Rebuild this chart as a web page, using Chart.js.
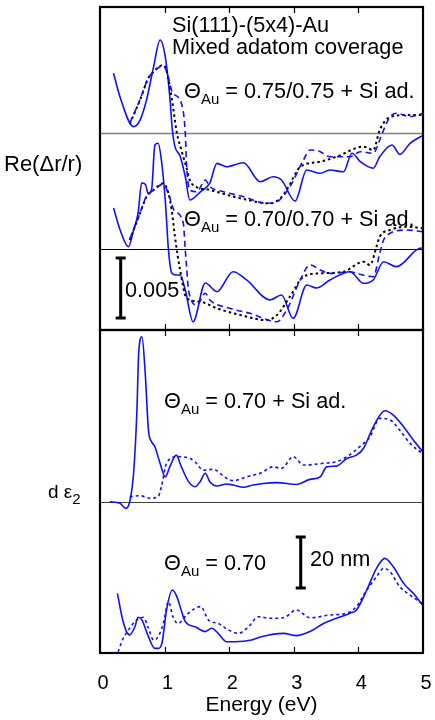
<!DOCTYPE html>
<html>
<head>
<meta charset="utf-8">
<script src="https://cdn.jsdelivr.net/npm/chart.js@4.4.0/dist/chart.umd.min.js"></script>
<style>
  body { margin: 0; background: #fff; overflow: hidden; }
  #wrap { position: relative; width: 435px; height: 720px; font-family: "Liberation Sans", Arial, sans-serif; color: #000; }
  canvas { position: absolute; left: 0; }
  #topChart { top: 0; }
  #botChart { top: 325px; }
  .lbl { position: absolute; font-size: 21.7px; line-height: 22px; white-space: nowrap; }
  .lbl sub { font-size: 15px; vertical-align: -6px; line-height: 0; }
</style>
</head>
<body>
<div id="wrap">
  <canvas id="topChart" width="435" height="335"></canvas>
  <canvas id="botChart" width="435" height="395"></canvas>

  <div class="lbl" style="left:172px;top:14px">Si(111)-(5x4)-Au</div>
  <div class="lbl" style="left:172px;top:36px">Mixed adatom coverage</div>
  <div class="lbl" style="left:184px;top:80px">&Theta;<sub>Au</sub> = 0.75/0.75 + Si ad.</div>
  <div class="lbl" style="left:184px;top:208px">&Theta;<sub>Au</sub> = 0.70/0.70 + Si ad.</div>
  <div class="lbl" style="left:125px;top:279px">0.005</div>
  <div class="lbl" style="left:4px;top:153px;font-size:22px">Re(&Delta;r/r)</div>

  <div class="lbl" style="left:164px;top:390px">&Theta;<sub>Au</sub> = 0.70 + Si ad.</div>
  <div class="lbl" style="left:164px;top:552px">&Theta;<sub>Au</sub> = 0.70</div>
  <div class="lbl" style="left:310px;top:548px">20 nm</div>
  <div class="lbl" style="left:48px;top:481px;font-size:19px">d &epsilon;<sub>2</sub></div>
</div>

<script>
// Re(dr/r) in units of 1e-3, read relative to each curve's own baseline
const reUpSolid = [[0.21,4.98],[0.31,3.0],[0.52,0.53],[0.62,1.08],[0.72,2.75],[0.83,5.53],[0.93,7.75],[1.01,6.36],[1.08,3.03],[1.12,0.25],[1.16,-1.14],[1.24,-1.92],[1.32,-3.64],[1.39,-5.58],[1.55,-4.92],[1.70,-4.17],[1.81,-2.53],[1.96,-2.81],[2.22,-2.48],[2.48,-4.06],[2.68,-3.64],[2.81,-3.92],[3.02,-5.67],[3.20,-3.08],[3.41,-3.36],[3.56,-3.08],[3.77,-3.23],[3.90,-1.69],[4.03,-2.39],[4.23,-2.94],[4.33,-1.98],[4.52,-1.0],[4.64,-1.78],[4.80,-0.86],[5.0,-0.2]];
const reUpDot = [[0.46,0.75],[0.62,2.75],[0.75,4.58],[0.83,5.1],[0.93,5.58],[0.98,5.67],[1.03,5.17],[1.11,2.92],[1.19,0],[1.26,-1.42],[1.34,-2.92],[1.39,-3.92],[1.44,-4.33],[1.70,-4.75],[2.17,-5.44],[2.63,-5.86],[2.79,-5.44],[2.89,-4.75],[3.10,-2.83],[3.41,-2.39],[3.66,-1.98],[4.08,-1.14],[4.23,-1.42],[4.33,0.25],[4.49,1.33],[4.75,1.5],[5.0,1.5]];
const reUpDash = [[0.46,0.8],[0.62,2.8],[0.75,4.6],[0.83,5.1],[0.98,5.6],[1.04,5.0],[1.12,3.4],[1.26,2.48],[1.32,0],[1.34,-2.67],[1.39,-4.75],[1.50,-4.89],[1.63,-3.92],[1.70,-4.47],[1.91,-4.89],[2.22,-5.31],[2.58,-5.86],[2.74,-5.72],[2.94,-4.47],[3.15,-2.25],[3.25,-1.42],[3.41,-1.56],[3.56,-1.98],[3.87,-1.98],[4.03,-1.56],[4.23,-1.69],[4.33,-0.58],[4.39,0.25],[4.49,1.36],[4.59,1.64],[4.80,1.36],[5.0,1.64]];

const reLowSolid = [[0.21,3.42],[0.31,1.6],[0.44,0.19],[0.52,1.58],[0.59,3.0],[0.645,5.5],[0.70,5.4],[0.75,4.6],[0.80,5.0],[0.85,8.67],[0.90,8.81],[0.95,7.42],[1.01,4.08],[1.06,-0.08],[1.11,-2.0],[1.18,-2.17],[1.24,-2.17],[1.32,-3.42],[1.44,-6.06],[1.63,-2.83],[1.81,-3.56],[2.06,-1.89],[2.27,-2.58],[2.63,-4.25],[2.81,-3.83],[2.99,-5.78],[3.20,-3.0],[3.35,-3.25],[3.56,-2.58],[3.87,-1.89],[4.08,-2.86],[4.23,-2.58],[4.39,-1.06],[4.59,-1.47],[4.95,0.06],[5.0,0.08]];
const reLowDot = [[0.46,0.75],[0.62,2.97],[0.72,4.36],[0.83,4.92],[0.98,5.47],[1.06,4.64],[1.11,3.25],[1.16,1.03],[1.24,-1.75],[1.34,-4.08],[1.55,-4.39],[1.81,-4.94],[2.17,-5.5],[2.58,-5.92],[2.74,-5.5],[2.94,-3.97],[3.15,-2.31],[3.41,-2.03],[3.77,-1.89],[4.08,-1.06],[4.18,-1.33],[4.28,0.19],[4.33,1.03],[4.49,1.58],[4.75,1.86],[5.0,1.72]];
const reLowDash = [[0.46,0.8],[0.62,3.0],[0.72,4.4],[0.83,4.9],[0.98,5.4],[1.06,4.6],[1.15,3.2],[1.29,2.14],[1.32,-0.08],[1.34,-1.47],[1.37,-3.42],[1.50,-4.67],[1.63,-3.69],[1.70,-4.25],[2.01,-4.94],[2.32,-5.36],[2.74,-6.06],[2.89,-5.08],[3.10,-2.58],[3.25,-1.33],[3.41,-1.75],[3.56,-2.03],[3.87,-1.89],[3.97,-2.03],[4.23,-2.31],[4.33,-0.36],[4.39,0.75],[4.49,1.31],[4.75,1.58],[5.0,1.44]];

// d*eps2 in nm
const epsUpSolid = [[0.15,0.1],[0.31,-0.5],[0.40,-2.5],[0.46,0.1],[0.52,11.3],[0.57,34.8],[0.60,58.9],[0.65,64.8],[0.70,50.5],[0.75,28.2],[0.80,23.6],[0.85,21.7],[0.93,15.2],[1.01,9.9],[1.08,13.8],[1.18,18.4],[1.26,13.8],[1.37,8.0],[1.47,6.0],[1.55,8.0],[1.63,11.3],[1.70,8.0],[1.81,6.3],[1.96,7.1],[2.06,6.7],[2.22,5.8],[2.37,6.7],[2.53,7.3],[2.74,7.6],[3.04,6.9],[3.25,8.9],[3.41,9.9],[3.51,13.8],[3.66,14.1],[3.82,17.1],[3.97,18.4],[4.08,21.1],[4.23,29.5],[4.41,35.8],[4.54,34.1],[4.70,29.5],[4.85,24.3],[5.0,19.6]];
const epsUpDot = [[0.46,2.1],[0.62,2.5],[0.77,1.5],[0.90,2.1],[0.95,6.0],[1.03,15.2],[1.19,17.8],[1.39,17.1],[1.47,15.8],[1.60,12.5],[1.75,12.8],[1.96,9.3],[2.06,8.4],[2.27,9.9],[2.48,11.3],[2.68,13.8],[2.81,13.2],[2.99,17.8],[3.15,14.5],[3.46,15.2],[3.66,15.8],[3.82,17.8],[4.02,21.7],[4.18,25.6],[4.33,32.8],[4.49,32.2],[4.64,28.2],[4.80,23.0],[5.0,18.8]];
const epsLowSolid = [[0.27,23.4],[0.34,14.2],[0.41,8.4],[0.46,7.1],[0.54,10.3],[0.59,14.0],[0.65,12.9],[0.75,6.4],[0.85,1.8],[0.90,1.8],[0.96,3.9],[1.03,16.9],[1.12,24.7],[1.19,22.1],[1.24,18.2],[1.32,12.3],[1.47,10.3],[1.63,8.4],[1.73,9.7],[1.83,7.7],[1.96,4.4],[2.09,4.4],[2.35,5.1],[2.50,6.4],[2.84,7.7],[3.04,6.8],[3.25,8.4],[3.46,11.6],[3.66,13.6],[3.87,15.6],[3.97,16.9],[4.13,24.7],[4.28,33.2],[4.41,37.1],[4.54,33.8],[4.70,27.3],[4.85,23.4],[5.0,18.5]];
const epsLowDot = [[0.28,0.5],[0.36,5.8],[0.44,9.0],[0.54,12.3],[0.67,14.0],[0.75,9.7],[0.83,5.1],[0.90,6.4],[0.98,11.6],[1.06,20.1],[1.13,14.2],[1.21,11.6],[1.34,14.9],[1.47,17.5],[1.56,18.2],[1.68,12.9],[1.83,11.6],[1.99,9.0],[2.14,7.7],[2.30,10.3],[2.45,14.2],[2.63,13.6],[2.84,13.8],[3.04,16.9],[3.25,13.8],[3.56,14.9],[3.82,15.6],[3.97,18.2],[4.13,24.7],[4.28,29.9],[4.39,33.2],[4.49,31.9],[4.64,26.0],[4.80,22.7],[5.0,19.2]];

const energyTicks = [0, 1, 2, 3, 4, 5];
const reUpOffset = 9.667;   // vertical offset of the 0.75/0.75 curves
const epsUpOffset = 59.2;   // vertical offset of the 0.70 + Si ad. curves

const blue = '#1010ff';

function shift(points, off) {
  return points.map(p => [p[0], p[1] + off]);
}

function line(points, color, dash, width) {
  return {
    data: points,
    borderColor: color,
    borderWidth: width,
    borderDash: dash,
    pointRadius: 0,
    fill: false,
    cubicInterpolationMode: 'monotone'
  };
}

function decor(cfg) {
  return {
    id: 'decor',
    beforeDatasetsDraw(chart) {
      const {ctx, chartArea: a, scales: {y}} = chart;
      ctx.save();
      cfg.baselines.forEach(b => {
        const py = Math.round(y.getPixelForValue(b.value)) + 0.5;
        ctx.strokeStyle = b.color;
        ctx.lineWidth = b.width;
        ctx.beginPath();
        ctx.moveTo(a.left, py);
        ctx.lineTo(a.right, py);
        ctx.stroke();
      });
      ctx.restore();
    },
    afterDatasetsDraw(chart) {
      const {ctx, chartArea: a, scales: {x, y}} = chart;
      ctx.save();
      ctx.strokeStyle = '#000';
      ctx.lineWidth = 1.2;
      energyTicks.slice(1, -1).forEach(e => {
        const px = Math.round(x.getPixelForValue(e)) + 0.5;
        ctx.beginPath();
        ctx.moveTo(px, a.top); ctx.lineTo(px, a.top + 6);
        ctx.moveTo(px, a.bottom); ctx.lineTo(px, a.bottom - 6);
        ctx.stroke();
      });
      ctx.lineWidth = 2.2;
      ctx.strokeRect(a.left, a.top, a.right - a.left, a.bottom - a.top);

      // scale bar
      const bx = x.getPixelForValue(cfg.bar.e);
      const y0 = y.getPixelForValue(cfg.bar.from);
      const y1 = y.getPixelForValue(cfg.bar.to);
      ctx.lineWidth = 3;
      ctx.beginPath();
      ctx.moveTo(bx, y0); ctx.lineTo(bx, y1);
      ctx.moveTo(bx - 5, y0); ctx.lineTo(bx + 5, y0);
      ctx.moveTo(bx - 5, y1); ctx.lineTo(bx + 5, y1);
      ctx.stroke();
      ctx.restore();
    }
  };
}

new Chart(document.getElementById('topChart'), {
  type: 'line',
  data: {
    datasets: [
      line(shift(reUpDash, reUpOffset), blue, [6, 4], 1.6),
      line(shift(reUpDot, reUpOffset), '#000', [2.5, 3], 2),
      line(shift(reUpSolid, reUpOffset), blue, [], 1.6),
      line(reLowDash, blue, [6, 4], 1.6),
      line(reLowDot, '#000', [2.5, 3], 2),
      line(reLowSolid, blue, [], 1.6)
    ]
  },
  options: {
    responsive: false,
    animation: false,
    layout: { padding: { left: 100, top: 7, right: 12, bottom: 5 } },
    plugins: { legend: { display: false }, tooltip: { enabled: false } },
    scales: {
      x: { type: 'linear', min: 0, max: 5, display: false },
      y: { min: -6.75, max: 20.167, display: false }
    }
  },
  plugins: [decor({
    baselines: [{ value: reUpOffset, color: '#808080', width: 1.6 }, { value: 0, color: '#000', width: 1 }],
    bar: { e: 0.32, from: -0.75, to: -5.75 }
  })]
});

new Chart(document.getElementById('botChart'), {
  type: 'line',
  data: {
    datasets: [
      line(shift(epsUpDot, epsUpOffset), blue, [3, 3], 1.6),
      line(shift(epsUpSolid, epsUpOffset), blue, [], 1.6),
      line(epsLowDot, blue, [3, 3], 1.6),
      line(epsLowSolid, blue, [], 1.6)
    ]
  },
  options: {
    responsive: false,
    animation: false,
    layout: { padding: { left: 100, top: 5, right: 12, bottom: 0 } },
    plugins: { legend: { display: false }, tooltip: { enabled: false } },
    scales: {
      x: {
        type: 'linear', min: 0, max: 5,
        grid: { display: false },
        border: { display: false },
        ticks: {
          stepSize: 1, padding: 10, labelOffset: 3, color: '#000',
          font: { family: '"Liberation Sans", Arial, sans-serif', size: 20 }
        },
        title: {
          display: true, text: 'Energy (eV)', color: '#000',
          font: { family: '"Liberation Sans", Arial, sans-serif', size: 21 },
          padding: { top: 0, bottom: 2 }
        },
        afterFit(scale) {
          scale.height = 67;
          scale.paddingLeft = 0;
          scale.paddingRight = 0;
        }
      },
      y: { min: 0, max: 126.67, display: false }
    }
  },
  plugins: [decor({
    baselines: [{ value: epsUpOffset, color: '#404040', width: 1 }],
    bar: { e: 3.107, from: 25.5, to: 45.5 }
  })]
});
</script>
</body>
</html>
